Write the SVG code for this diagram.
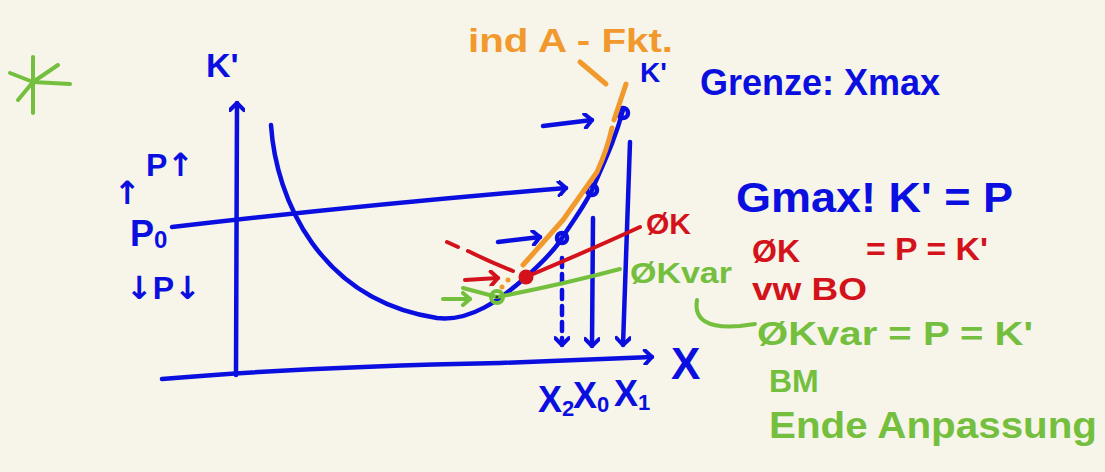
<svg xmlns="http://www.w3.org/2000/svg" width="1105" height="472" viewBox="0 0 1105 472">
<style>
.b{stroke:#0a0fe0;fill:none;stroke-width:4.5;stroke-linecap:round;stroke-linejoin:round}
.o{stroke:#f2992e;fill:none;stroke-width:5;stroke-linecap:round;stroke-linejoin:round}
.r{stroke:#d3121b;fill:none;stroke-width:4;stroke-linecap:round;stroke-linejoin:round}
.g{stroke:#74bf3e;fill:none;stroke-width:4;stroke-linecap:round;stroke-linejoin:round}
text{font-family:"Liberation Sans",Arial,sans-serif;font-weight:bold}
.arr{font-family:"DejaVu Sans",sans-serif}
.tb{fill:#0a0fe0}.to{fill:#f2992e}.tr{fill:#d3121b}.tg{fill:#74bf3e}
</style>
<defs>
<marker id="ab" markerUnits="userSpaceOnUse" markerWidth="16" markerHeight="16" refX="12" refY="8" orient="auto"><path d="M5,1 L12,8 L5,15" fill="none" stroke="#0a0fe0" stroke-width="4" stroke-linecap="round" stroke-linejoin="round"/></marker>
<marker id="ar" markerUnits="userSpaceOnUse" markerWidth="16" markerHeight="16" refX="12" refY="8" orient="auto"><path d="M5,1 L12,8 L5,15" fill="none" stroke="#d3121b" stroke-width="4" stroke-linecap="round" stroke-linejoin="round"/></marker>
<marker id="ag" markerUnits="userSpaceOnUse" markerWidth="16" markerHeight="16" refX="12" refY="8" orient="auto"><path d="M5,2 L12,8 L5,14" fill="none" stroke="#74bf3e" stroke-width="4" stroke-linecap="round" stroke-linejoin="round"/></marker>
</defs>
<rect width="1105" height="472" fill="#f7f4e9"/>

<g id="star"><path class="g" d="M33,57 L33,113 M10,73 L33,82 L70,84 M58,65 L33,82 L18,100"/></g>

<g id="axes">
<path class="b" d="M236,375 L237,103" marker-end="url(#ab)"/>
<path class="b" d="M162,379 Q300,367 500,363 L652,357" marker-end="url(#ab)"/>
<text class="tb" x="206" y="77" font-size="34">K'</text>
<text class="tb" x="671" y="379" font-size="44">X</text>
</g>

<g id="price-labels">
<text class="tb" x="146" y="176" font-size="32">P<tspan class="arr">↑</tspan></text>
<text class="tb arr" x="114" y="204" font-size="32">↑</text>
<text class="tb" x="130" y="246" font-size="36">P<tspan font-size="24" dy="2">0</tspan></text>
<text class="tb" x="126" y="299" font-size="32"><tspan class="arr">↓</tspan>P<tspan class="arr">↓</tspan></text>
</g>

<g id="connectors">
<path class="b" d="M172,227 Q360,205 566,188" marker-end="url(#ab)"/>
<path class="b" d="M543,126 L592,120" marker-end="url(#ab)"/>
<path class="b" d="M498,242 L540,237" marker-end="url(#ab)"/>
<path class="b" d="M562,258 L562,345" stroke-dasharray="9,7" marker-end="url(#ab)"/>
<path class="b" d="M593,218 L592,346" marker-end="url(#ab)"/>
<path class="b" d="M630,142 L623,345" marker-end="url(#ab)"/>
<path class="r" d="M465,280 L498,278" marker-end="url(#ar)"/>
<path class="g" d="M443,299 L470,299" marker-end="url(#ag)"/>
</g>

<g id="cost-curve">
<path class="b" d="M271,125 C276,200 320,300 437,318 C470,322 500,300 526,277 C545,260 556,248 562,238 C575,218 585,205 592,190 C605,160 615,140 623,110"/>
<circle class="b" cx="562" cy="238" r="5" stroke-width="3.5"/>
<circle class="b" cx="592" cy="190" r="5" stroke-width="3.5"/>
<circle class="b" cx="623" cy="113" r="5" stroke-width="3.5"/>
<text class="tb" x="640" y="82" font-size="28">K'</text>
</g>

<g id="supply-function">
<path class="o" d="M523,265 L563,220 L597,172 Q607,150 612,128 M614,120 L626,84"/>
<path class="o" d="M580,62 L606,84"/>
<text class="to" x="468" y="52" font-size="34" textLength="205" lengthAdjust="spacingAndGlyphs">ind A - Fkt.</text>
<circle cx="508" cy="280" r="2.5" fill="#f2992e"/>
<circle cx="502" cy="287" r="2.5" fill="#f2992e"/>
</g>

<g id="avg-cost">
<path class="r" d="M447,242 L458,247 M468,251 Q490,262 513,271"/>
<path class="r" d="M526,277 Q590,250 640,227"/>
<circle cx="526" cy="277" r="7.5" fill="#d3121b"/>
<text class="tr" x="646" y="234" font-size="30">ØK</text>
</g>

<g id="avg-var-cost">
<path class="g" d="M463,288 L497,297 Q560,285 620,269"/>
<circle cx="497" cy="297" r="6" fill="none" stroke="#74bf3e" stroke-width="4"/>
<circle cx="497" cy="297" r="1.5" fill="#2a4a10"/>
<text class="tg" x="630" y="283" font-size="30" textLength="102" lengthAdjust="spacingAndGlyphs">ØKvar</text>
</g>

<g id="x-labels">
<text class="tb" x="538" y="412" font-size="36">X<tspan font-size="22" dy="4">2</tspan></text>
<text class="tb" x="573" y="408" font-size="36">X<tspan font-size="22" dy="4">0</tspan></text>
<text class="tb" x="614" y="406" font-size="36">X<tspan font-size="22" dy="4">1</tspan></text>
</g>

<g id="grenze">
<text class="tb" x="700" y="95" font-size="36" textLength="240" lengthAdjust="spacingAndGlyphs">Grenze: Xmax</text>
</g>

<g id="gmax">
<text class="tb" x="736" y="212" font-size="42" textLength="277" lengthAdjust="spacingAndGlyphs">Gmax!  K' = P</text>
</g>

<g id="bo">
<text class="tr" x="752" y="262" font-size="32">ØK</text>
<text class="tr" x="866" y="260" font-size="32" textLength="122" lengthAdjust="spacingAndGlyphs">= P = K'</text>
<text class="tr" x="752" y="300" font-size="32" textLength="115" lengthAdjust="spacingAndGlyphs">vw BO</text>
</g>

<g id="bm">
<path class="g" d="M697,300 Q692,330 740,326 L755,324"/>
<text class="tg" x="757" y="345" font-size="34" textLength="276" lengthAdjust="spacingAndGlyphs">ØKvar = P = K'</text>
<text class="tg" x="769" y="392" font-size="32">BM</text>
<text class="tg" x="769" y="438" font-size="36" textLength="328" lengthAdjust="spacingAndGlyphs">Ende Anpassung</text>
</g>
</svg>
